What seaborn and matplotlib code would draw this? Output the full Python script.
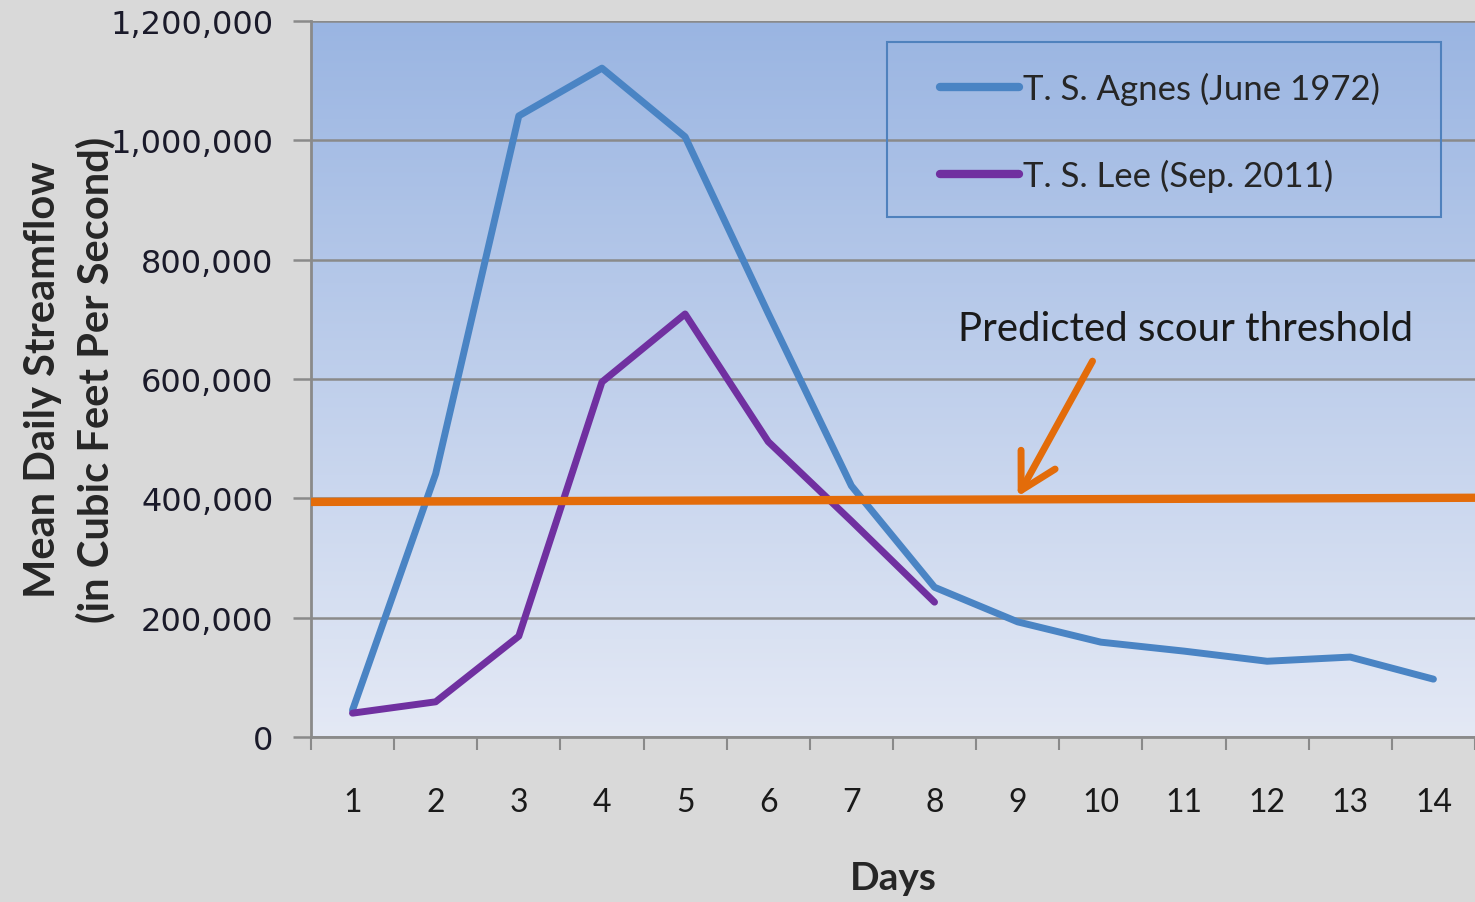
import numpy as np
import pandas as pd
import seaborn as sns
import matplotlib.pyplot as plt
from matplotlib.colors import LinearSegmentedColormap
from matplotlib.patches import Rectangle

days = list(range(1, 15))
agnes_flow = [45000, 441000, 1041000, 1121000, 1006000, 710000, 421000,
              251000, 193000, 159000, 144000, 127000, 134000, 97000]
lee_days = list(range(1, 9))
lee_flow = [40000, 59000, 169000, 595000, 709000, 495000, 362000, 226000]
threshold_x = [0.5, 14.5]
threshold_y = [394000, 401000]
y_ticks = [0, 200000, 400000, 600000, 800000, 1000000, 1200000]

agnes_label = "T. S. Agnes (June 1972)"
lee_label = "T. S. Lee (Sep. 2011)"

df = pd.concat([
    pd.DataFrame({"Day": days, "Flow": agnes_flow, "Storm": agnes_label}),
    pd.DataFrame({"Day": lee_days, "Flow": lee_flow, "Storm": lee_label}),
])

sns.set_style("white")
plt.rcParams["font.family"] = ["Lato", "DejaVu Sans"]

fig = plt.figure(figsize=(14.75, 9.03), dpi=100, facecolor="#d9d9d9")
ax = fig.add_axes([0.2108, 0.1827, 0.7892, 0.7929])

# gradient plot area like the Excel fill
grad = np.linspace(0, 1, 256).reshape(-1, 1)
cmap = LinearSegmentedColormap.from_list("excel", ["#e4e9f5", "#9ab5e2"])
ax.imshow(grad, extent=[0, 1, 0, 1], transform=ax.transAxes, origin="lower",
          aspect="auto", cmap=cmap, zorder=0)

for v in y_ticks:
    ax.axhline(v, color="#8a8a8a", lw=1.8, zorder=1)

sns.lineplot(data=df, x="Day", y="Flow", hue="Storm", ax=ax,
             palette={agnes_label: "#4a84c4", lee_label: "#7030a0"},
             linewidth=5, zorder=3)

ax.plot(threshold_x, threshold_y, color="#e36c0a", lw=6, zorder=4,
        solid_capstyle="butt")

ax.annotate("", xy=(9.0, 403000), xytext=(9.9, 630000),
            arrowprops=dict(arrowstyle="->,head_length=0.9,head_width=0.5",
                            color="#e36c0a", lw=5, mutation_scale=28,
                            shrinkA=0, shrinkB=0), zorder=5)
ax.text(11.02, 684000, "Predicted scour threshold", ha="center", va="center",
        fontsize=29, color="#1a1a1a", zorder=5)

ax.set_xlim(0.5, 14.5)
ax.set_ylim(0, 1200000)
ax.set_xticks(days)
ax.set_xticklabels([str(d) for d in days], fontsize=23, color="#1a1a1a")
ax.set_xticks(np.arange(0.5, 15, 1), minor=True)
ax.tick_params(axis="x", which="major", length=0, pad=36)
ax.tick_params(axis="x", which="minor", length=9, width=1.5, color="#8a8a8a",
               direction="out", bottom=True)
ax.set_yticks(y_ticks)
ax.set_yticklabels([f"{v:,}" for v in y_ticks], fontsize=23,
                   family="DejaVu Sans", color="#1a1a2a")
ax.tick_params(axis="y", length=13, width=1.8, color="#8a8a8a",
               direction="out", left=True, pad=14)

for s in ["top", "right"]:
    ax.spines[s].set_visible(False)
for s in ["left", "bottom"]:
    ax.spines[s].set_color("#8a8a8a")
    ax.spines[s].set_linewidth(2)

ax.set_xlabel("Days", fontsize=28, fontweight="bold", labelpad=31)
ax.set_ylabel("Mean Daily Streamflow\n(in Cubic Feet Per Second)",
              fontsize=30, fontweight="bold", linespacing=1.4)
ax.yaxis.set_label_coords(-0.168, 0.5)

# legend frame drawn as in the Excel chart
ax.add_patch(Rectangle((0.495, 0.726), 0.476, 0.245, transform=ax.transAxes,
                       facecolor="none", edgecolor="#4f81bd", lw=1.5,
                       zorder=6))
handles, labels = ax.get_legend_handles_labels()
for h in handles:
    h.set_linewidth(6)
leg = ax.legend(handles, labels, loc="center left",
                bbox_to_anchor=(0.540, 0.845), fontsize=25, frameon=False,
                handlelength=2.3, handletextpad=0.1, labelspacing=1.55,
                borderpad=0, borderaxespad=0)
leg.set_zorder(6)

fig.savefig("out.png", dpi=100, facecolor=fig.get_facecolor())
